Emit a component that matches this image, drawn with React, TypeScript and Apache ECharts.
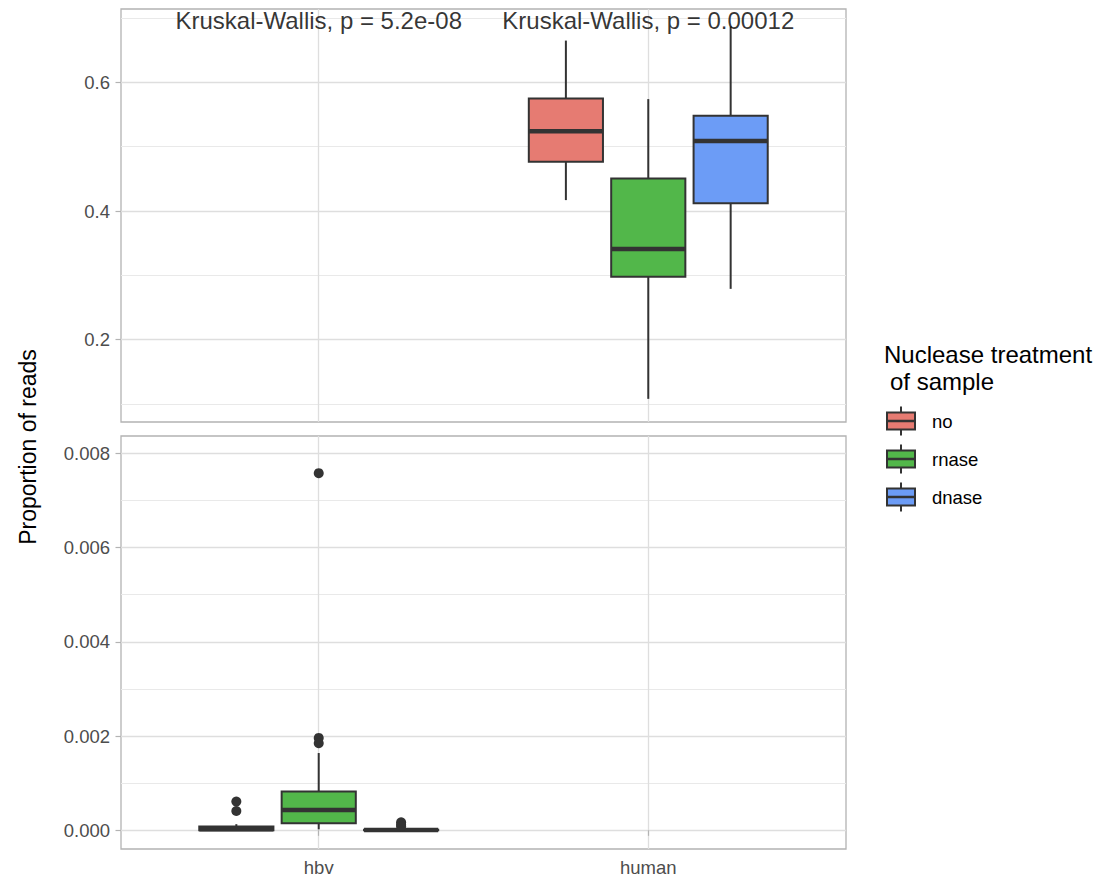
import React, { useEffect, useRef } from 'react';
import * as echarts from 'echarts';

const categories = ['hbv', 'human'];
const treatments = ['no', 'rnase', 'dnase'];
const treatmentColors = ['#E67B72', '#52B74A', '#6C9CF6'];

// [whisker min, q1, median, q3, whisker max]
const humanNo = [0.417, 0.4765, 0.524, 0.575, 0.665];
const humanRnase = [0.108, 0.298, 0.341, 0.4505, 0.574];
const humanDnase = [0.279, 0.412, 0.509, 0.548, 0.687];
const hbvNo = [0, 0, 0.00002, 0.00008, 0.00013];
const hbvRnase = [0.00002, 0.000149, 0.000432, 0.000821, 0.00164];
const hbvDnase = [0, 0, 0.000005, 0.00001, 0.00002];

const hbvNoOutliers = [0.00061, 0.00041];
const hbvRnaseOutliers = [0.00758, 0.00196, 0.00185];
const hbvDnaseOutliers = [0.00017, 0.00012, 0.00008];

const kruskalLabels = ['Kruskal-Wallis, p = 5.2e-08', 'Kruskal-Wallis, p = 0.00012'];
const kruskalY = 0.696;

const topTicks = [0.2, 0.4, 0.6];
const topMinor = [0.1, 0.3, 0.5, 0.7];
const bottomTicks = [0, 0.002, 0.004, 0.006, 0.008];
const bottomMinor = [0.001, 0.003, 0.005, 0.007];
const topRange = [0.072, 0.7141];
const bottomRange = [-0.000397, 0.008369];
const xRange = [0.4, 2.6];

const DODGE = 0.25;
const HALF = 0.1125;
const FONT = '"Liberation Sans", Arial, Helvetica, sans-serif';
const LINE = '#333333';

const xPos = (cat: string, g: number) => categories.indexOf(cat) + 1 + (g - 1) * DODGE;

const renderBox = (params: any, api: any) => {
  const x = api.value(0);
  const mn = api.value(1), q1 = api.value(2), md = api.value(3), q3 = api.value(4), mx = api.value(5);
  const pMin = api.coord([x, mn]);
  const pMax = api.coord([x, mx]);
  const pQ1 = api.coord([x - HALF, q1]);
  const pQ3 = api.coord([x + HALF, q3]);
  const pMdL = api.coord([x - HALF, md]);
  const pMdR = api.coord([x + HALF, md]);
  const color = api.visual('color');
  return {
    type: 'group',
    children: [
      { type: 'line', shape: { x1: pMin[0], y1: pQ1[1], x2: pMin[0], y2: pMin[1] }, style: { stroke: LINE, lineWidth: 2 } },
      { type: 'line', shape: { x1: pMax[0], y1: pQ3[1], x2: pMax[0], y2: pMax[1] }, style: { stroke: LINE, lineWidth: 2 } },
      {
        type: 'rect',
        shape: { x: pQ1[0], y: pQ3[1], width: pQ3[0] - pQ1[0], height: Math.max(pQ1[1] - pQ3[1], 0.5) },
        style: { fill: color, stroke: LINE, lineWidth: 2 },
      },
      { type: 'line', shape: { x1: pMdL[0], y1: pMdL[1], x2: pMdR[0], y2: pMdR[1] }, style: { stroke: LINE, lineWidth: 4.5 } },
    ],
  };
};

const boxSeries = (name: string, g: number, cat: string, stats: number[], panel: number) => ({
  type: 'custom',
  name,
  xAxisIndex: panel,
  yAxisIndex: panel * 2,
  itemStyle: { color: treatmentColors[g] },
  dimensions: ['x', 'min', 'q1', 'median', 'q3', 'max'],
  encode: { x: 0, y: [1, 2, 3, 4, 5] },
  renderItem: renderBox,
  data: [[xPos(cat, g), ...stats]],
  silent: true,
  z: 3,
});

const outlierSeries = (g: number, cat: string, values: number[], panel: number) => ({
  type: 'scatter',
  xAxisIndex: panel,
  yAxisIndex: panel * 2,
  symbol: 'circle',
  symbolSize: 10,
  itemStyle: { color: LINE, opacity: 1 },
  data: values.map((v) => [xPos(cat, g), v]),
  silent: true,
  z: 4,
});

const makeYAxes = (grid: number, range: number[], ticks: number[], minor: number[], digits: number) => [
  {
    type: 'value',
    gridIndex: grid,
    min: range[0],
    max: range[1],
    position: 'left',
    axisLine: { show: false },
    axisTick: { show: true, length: 5.5, lineStyle: { color: '#b3b3b3', width: 1.2 }, customValues: ticks },
    axisLabel: {
      show: true,
      customValues: ticks,
      formatter: (v: number) => v.toFixed(digits),
      color: '#4d4d4d',
      fontSize: 18.5,
      fontFamily: FONT,
      margin: 11,
    },
    splitLine: { show: true, lineStyle: { color: '#dedede', width: 1.3 } },
  },
  {
    type: 'value',
    gridIndex: grid,
    min: range[0],
    max: range[1],
    position: 'left',
    axisLine: { show: false },
    axisTick: { show: false, customValues: minor },
    axisLabel: { show: false },
    splitLine: { show: true, lineStyle: { color: '#e9e9e9', width: 1 } },
  },
];

const makeXAxis = (grid: number, showLabels: boolean) => ({
  type: 'value',
  gridIndex: grid,
  min: xRange[0],
  max: xRange[1],
  axisLine: { show: false },
  axisTick: { show: showLabels, length: 5.5, lineStyle: { color: '#b3b3b3', width: 1.2 }, customValues: [1, 2] },
  axisLabel: {
    show: showLabels,
    customValues: [1, 2],
    formatter: (v: number) => categories[Math.round(v) - 1] ?? '',
    color: '#4d4d4d',
    fontSize: 18.5,
    fontFamily: FONT,
    margin: 9,
  },
  splitLine: { show: true, lineStyle: { color: '#dedede', width: 1.3 } },
});

const legendGraphics = () => {
  const els: any[] = [
    { type: 'text', left: 884, top: 342, style: { text: 'Nuclease treatment', fontSize: 24, fontFamily: FONT, fill: '#000' } },
    { type: 'text', left: 890, top: 369, style: { text: 'of sample', fontSize: 24, fontFamily: FONT, fill: '#000' } },
    {
      type: 'text',
      x: 28,
      y: 447,
      rotation: Math.PI / 2,
      style: { text: 'Proportion of reads', fontSize: 23, fontFamily: FONT, fill: '#000', align: 'center', verticalAlign: 'middle' },
    },
  ];
  treatments.forEach((t, i) => {
    const cy = 421 + i * 38;
    const x0 = 887, x1 = 915, xc = 901;
    els.push({
      type: 'group',
      children: [
        { type: 'line', shape: { x1: xc, y1: cy - 14.5, x2: xc, y2: cy + 14.5 }, style: { stroke: LINE, lineWidth: 2 } },
        { type: 'rect', shape: { x: x0, y: cy - 8.5, width: x1 - x0, height: 17 }, style: { fill: treatmentColors[i], stroke: LINE, lineWidth: 2 } },
        { type: 'line', shape: { x1: x0, y1: cy, x2: x1, y2: cy }, style: { stroke: LINE, lineWidth: 2.5 } },
        { type: 'text', x: 932, y: cy, style: { text: t, fontSize: 18.5, fontFamily: FONT, fill: '#000', verticalAlign: 'middle' } },
      ],
    });
  });
  return els;
};

export default function App() {
  const ref = useRef<HTMLDivElement>(null);
  useEffect(() => {
    if (!ref.current) return;
    const chart = echarts.init(ref.current, null, { renderer: 'svg' });
    const option: any = {
      animation: false,
      backgroundColor: '#ffffff',
      textStyle: { fontFamily: FONT },
      grid: [
        { left: 121, top: 9, width: 725, height: 413, show: true, borderColor: '#b3b3b3', borderWidth: 1.3, backgroundColor: '#fff', containLabel: false },
        { left: 121, top: 436, width: 725, height: 413, show: true, borderColor: '#b3b3b3', borderWidth: 1.3, backgroundColor: '#fff', containLabel: false },
      ],
      xAxis: [makeXAxis(0, false), makeXAxis(1, true)],
      yAxis: [...makeYAxes(0, topRange, topTicks, topMinor, 1), ...makeYAxes(1, bottomRange, bottomTicks, bottomMinor, 3)],
      series: [
        boxSeries('no', 0, 'human', humanNo, 0),
        boxSeries('rnase', 1, 'human', humanRnase, 0),
        boxSeries('dnase', 2, 'human', humanDnase, 0),
        boxSeries('no', 0, 'hbv', hbvNo, 1),
        boxSeries('rnase', 1, 'hbv', hbvRnase, 1),
        boxSeries('dnase', 2, 'hbv', hbvDnase, 1),
        outlierSeries(0, 'hbv', hbvNoOutliers, 1),
        outlierSeries(1, 'hbv', hbvRnaseOutliers, 1),
        outlierSeries(2, 'hbv', hbvDnaseOutliers, 1),
        {
          type: 'scatter',
          xAxisIndex: 0,
          yAxisIndex: 0,
          symbol: 'circle',
          symbolSize: 1,
          itemStyle: { color: 'rgba(0,0,0,0)' },
          data: kruskalLabels.map((l, i) => [i + 1, kruskalY, l]),
          label: {
            show: true,
            position: 'inside',
            formatter: (p: any) => p.value[2],
            color: '#000',
            fontSize: 24,
            fontFamily: FONT,
          },
          silent: true,
          z: 5,
        },
      ],
      graphic: legendGraphics(),
    };
    chart.setOption(option);
    return () => chart.dispose();
  }, []);
  return <div ref={ref} style={{ position: 'fixed', left: 0, top: 0, width: 1094, height: 884 }} />;
}
